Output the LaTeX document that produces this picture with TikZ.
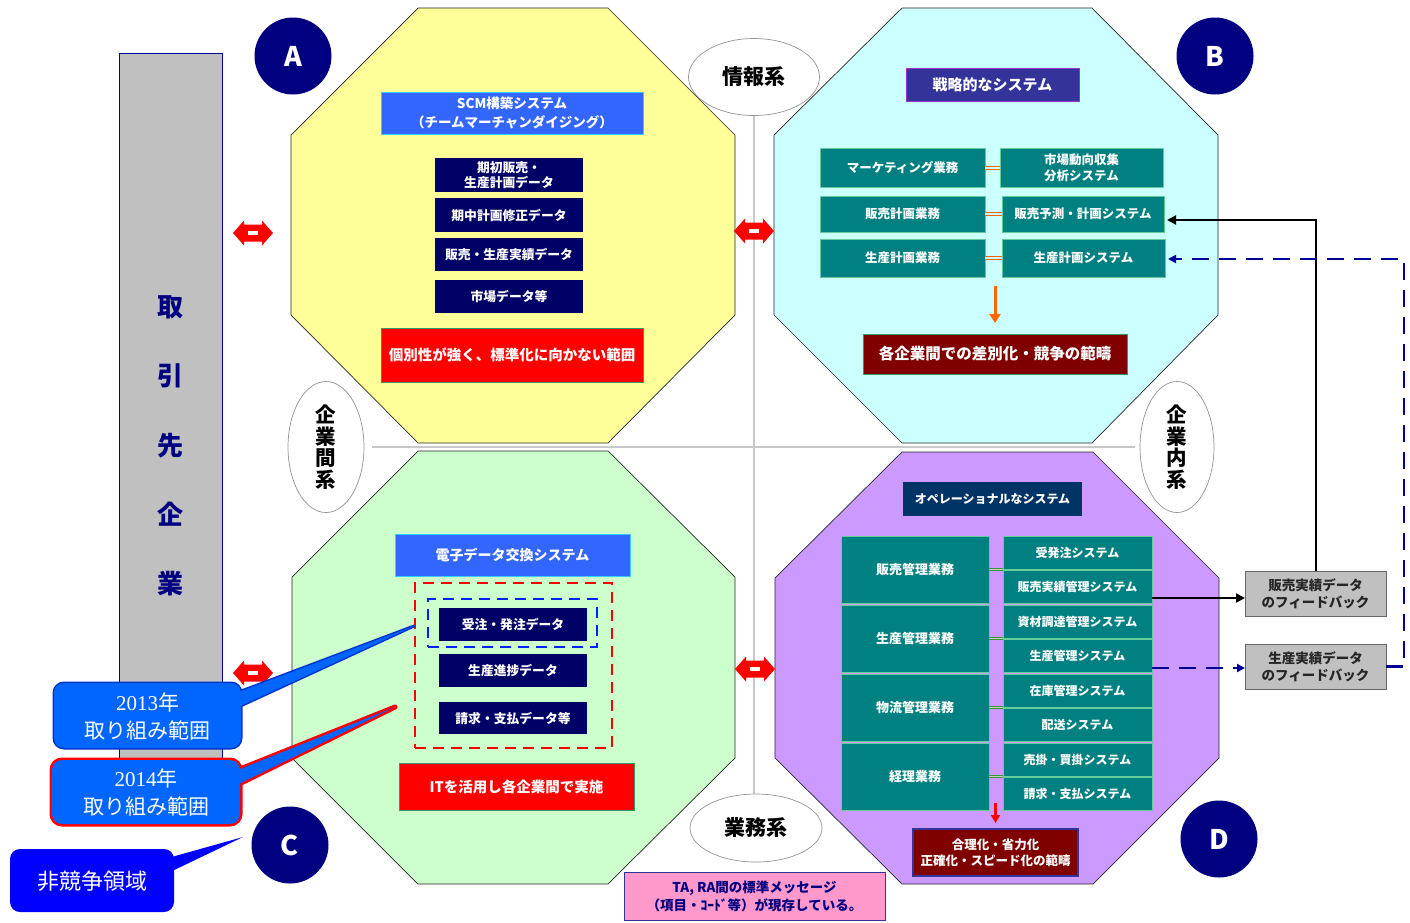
\documentclass[tikz,border=0pt]{standalone}
\usepackage{fontspec}
\setmainfont{Noto Sans CJK JP}
\newfontfamily\serifnum{Liberation Serif}
\usetikzlibrary{arrows.meta,fit,shapes.geometric}
\definecolor{octY}{HTML}{FFFF99}
\definecolor{octC}{HTML}{CCFFFF}
\definecolor{octG}{HTML}{CCFFCC}
\definecolor{octP}{HTML}{CC99FF}
\definecolor{navyc}{HTML}{000080}
\definecolor{datanavy}{HTML}{000066}
\definecolor{tealb}{HTML}{008080}
\definecolor{tealedge}{HTML}{66CC99}
\definecolor{sysblue}{HTML}{3366FF}
\definecolor{sysedge}{HTML}{33CCFF}
\definecolor{rededge}{HTML}{339966}
\definecolor{darkred}{HTML}{800000}
\definecolor{stratfill}{HTML}{333399}
\definecolor{stratedge}{HTML}{9933CC}
\definecolor{opfill}{HTML}{003366}
\definecolor{grayfill}{HTML}{C0C0C0}
\definecolor{grayedge}{HTML}{666666}
\definecolor{colnavy}{HTML}{000099}
\definecolor{axisgray}{HTML}{C8C8C8}
\definecolor{calblue}{HTML}{0066FF}
\definecolor{caledge}{HTML}{0033CC}
\definecolor{pureblue}{HTML}{0000FF}
\definecolor{pinkf}{HTML}{FF99CC}
\definecolor{pinkedge}{HTML}{333399}
\definecolor{orangel}{HTML}{FF6600}
\definecolor{greenl}{HTML}{339933}
\definecolor{dashblue}{HTML}{000099}
\definecolor{rngblue}{HTML}{0022FF}
\newcommand\bx[7]{\node[#2,minimum width={(#5)-(#3)},minimum height={(#6)-(#4)}] (#1) at ({((#3)+(#5))/2},{((#4)+(#6))/2}) {#7};}
\tikzset{
  dblarr/.pic={
    \fill[red] (-20,0) -- (-9,-12.5) -- (-9,-8.5) -- (9,-8.5) -- (9,-12.5) -- (20,0)
      -- (9,12.5) -- (9,8.5) -- (-9,8.5) -- (-9,12.5) -- cycle;
    \fill[white] (-5,-2) rectangle (5,2);
  }
}
\begin{document}
\begin{tikzpicture}[x=1pt,y=-1pt,
  every node/.style={inner sep=0pt,outer sep=0pt},
  oct/.style={draw=black!85,line width=0.7pt},
  axisline/.style={draw=axisgray,line width=1.5pt},
  lbl/.style={ellipse,draw=gray!85,line width=0.7pt,fill=white,align=center},
  circ/.style={circle,fill=navyc,minimum size=77pt,text=white,font=\bfseries\fontsize{27}{27}\selectfont},
  databox/.style={fill=datanavy,text=white,align=center,font=\bfseries\fontsize{12.8}{15}\selectfont},
  sysbox/.style={fill=sysblue,draw=sysedge,line width=1pt,text=white,align=center,font=\bfseries\fontsize{13.5}{19}\selectfont},
  redbox/.style={fill=red,draw=rededge,line width=0.8pt,text=white,align=center,font=\bfseries\fontsize{14.5}{18}\selectfont},
  tealbox/.style={fill=tealb,draw=tealedge,line width=0.8pt,text=white,align=center,font=\bfseries\fontsize{12.5}{16}\selectfont},
  stratbox/.style={fill=stratfill,draw=stratedge,line width=0.8pt,text=white,font=\bfseries\fontsize{15}{18}\selectfont},
  opbox/.style={fill=opfill,text=white,font=\bfseries\fontsize{12}{15}\selectfont},
  drbox/.style={fill=darkred,draw=rededge,line width=0.6pt,text=white,align=center,font=\bfseries\fontsize{15.5}{18}\selectfont},
  drboxb/.style={fill=darkred,draw=pinkedge,line width=1.5pt,text=white,align=center,font=\bfseries\fontsize{12.5}{16}\selectfont},
  fbbox/.style={fill=grayfill,draw=grayedge,line width=1pt,text=black!85,align=center,font=\bfseries\fontsize{13.5}{17}\selectfont},
  pinkbox/.style={fill=pinkf,draw=pinkedge,line width=1pt,text=navyc,align=center,font=\bfseries\fontsize{13.5}{18}\selectfont},
  reddash/.style={draw=red,line width=2.8pt,dash pattern=on 11pt off 7pt},
  bluedash/.style={draw=rngblue,line width=2.8pt,dash pattern=on 11pt off 7pt},
  blk/.style={draw=black,line width=2pt,-{Triangle[length=9pt,width=9pt]}},
  bdash/.style={draw=dashblue,line width=2.5pt,dash pattern=on 17pt off 10pt,-{Triangle[length=8pt,width=8pt]}},
  odbl/.style={draw=orangel,line width=1pt,double=octC,double distance=2pt},
  gdbl/.style={draw=greenl,line width=0.8pt,double=gray!40,double distance=1.6pt},
  oarrow/.style={draw=orangel,line width=3pt,-{Triangle[length=9pt,width=11pt]}},
  rarrow/.style={draw=red,line width=2.2pt,-{Triangle[length=8pt,width=9pt]}},
  calltext/.style={text=white,align=center,font=\fontsize{21}{28}\selectfont},
]
\useasboundingbox (0,0) rectangle (1410,922);

% octagons
\draw[oct,fill=octY] (418,8) -- (608,8) -- (735,135) -- (735,315) -- (608,443) -- (418,443) -- (291,315) -- (291,135) -- cycle;
\draw[oct,fill=octC] (902,8) -- (1092,8) -- (1218,135) -- (1218,315) -- (1092,443) -- (902,443) -- (774,315) -- (774,135) -- cycle;
\draw[oct,fill=octG] (418,451) -- (608,451) -- (735,577) -- (735,758) -- (608,884) -- (418,884) -- (292,758) -- (292,577) -- cycle;
\draw[oct,fill=octP] (902,452) -- (1093,452) -- (1219,578) -- (1219,758) -- (1093,884) -- (902,884) -- (775,758) -- (775,578) -- cycle;

% axis labels
\node[lbl,minimum width=131pt,minimum height=77pt,font=\bfseries\fontsize{21}{21}\selectfont] (info) at (754,77) {情報系};
\node[lbl,minimum width=132pt,minimum height=68pt,font=\bfseries\fontsize{21}{21}\selectfont] (work) at (756,828) {業務系};
\node[lbl,minimum width=76pt,minimum height=131pt,font=\bfseries\fontsize{20.5}{21.7}\selectfont] (inter) at (326,447) {企\\業\\間\\系};
\node[lbl,minimum width=74pt,minimum height=131pt,font=\bfseries\fontsize{20.5}{21.7}\selectfont] (intra) at (1177,447) {企\\業\\内\\系};
\draw[axisline] (info.south) -- (info.south |- work.north);
\draw[axisline,shorten <=8pt,shorten >=5pt] (inter.east) -- (intra.west);

% left column
\node[fill=grayfill,draw=colnavy,line width=1pt,fit={(119,53) (222,775)}] (col) {};
\node[text=navyc,align=center,font=\bfseries\fontsize{26}{69.25}\selectfont] (coltext) at (170,446) {取\\引\\先\\企\\業};

% circles
\node[circ] (cA) at (293,56) {A};
\node[circ] (cB) at (1215,56) {B};
\node[circ] (cC) at (290,845) {C};
\node[circ] (cD) at (1219,839) {D};

% A
\bx{scm}{sysbox}{381}{92}{643}{134}{SCM構築システム\\（チームマーチャンダイジング）}
\bx{a1}{databox}{435}{158}{583}{192}{期初販売・\\生産計画データ}
\bx{a2}{databox}{435}{198}{583}{232}{期中計画修正データ}
\bx{a3}{databox}{435}{238}{583}{271}{販売・生産実績データ}
\bx{a4}{databox}{435}{280}{583}{313}{市場データ等}
\bx{ared}{redbox}{381}{328}{643}{382}{個別性が強く、標準化に向かない範囲}

% B
\bx{strat}{stratbox}{906}{68}{1079}{101}{戦略的なシステム}
\bx{bl1}{tealbox}{820}{148}{985}{187}{マーケティング業務}
\bx{br1}{tealbox}{1000}{148}{1163}{187}{市場動向収集\\分析システム}
\bx{bl2}{tealbox}{820}{196}{985}{232}{販売計画業務}
\bx{br2}{tealbox}{1002}{196}{1164}{232}{販売予測・計画システム}
\bx{bl3}{tealbox}{820}{239}{985}{277}{生産計画業務}
\bx{br3}{tealbox}{1002}{239}{1165}{277}{生産計画システム}
\draw[odbl] (bl1.east) -- (bl1.east -| br1.west);
\draw[odbl] (bl2.east) -- (bl2.east -| br2.west);
\draw[odbl] (bl3.east) -- (bl3.east -| br3.west);
\bx{bred}{drbox}{863}{334}{1127}{374}{各企業間での差別化・競争の範疇}
\draw[oarrow] ([yshift=48pt]bred.north) -- ([yshift=11pt]bred.north);

% C
\bx{edi}{sysbox}{395}{534}{630}{576}{\fontsize{14}{18}\selectfont 電子データ交換システム}
\node[reddash,fit={(415,583) (612,748)}] (rng14) {};
\node[bluedash,fit={(428,599) (597,647)}] (rng13) {};
\bx{c1}{databox}{439}{608}{587}{641}{受注・発注データ}
\bx{c2}{databox}{439}{654}{587}{687}{生産進捗データ}
\bx{c3}{databox}{439}{702}{587}{734}{請求・支払データ等}
\bx{cred}{redbox}{399}{763}{634}{810}{ITを活用し各企業間で実施}

% D
\bx{op}{opbox}{903}{482}{1082}{516}{オペレーショナルなシステム}
\bx{dl1}{tealbox}{841}{536}{989}{603}{\fontsize{13}{16}\selectfont 販売管理業務}
\bx{dl2}{tealbox}{841}{605}{989}{672}{\fontsize{13}{16}\selectfont 生産管理業務}
\bx{dl3}{tealbox}{841}{674}{989}{741}{\fontsize{13}{16}\selectfont 物流管理業務}
\bx{dl4}{tealbox}{841}{743}{989}{810}{\fontsize{13}{16}\selectfont 経理業務}
\bx{dr1}{tealbox}{1003}{536}{1152}{569}{\fontsize{12}{15}\selectfont 受発注システム}
\bx{dr2}{tealbox}{1003}{570}{1152}{603}{\fontsize{12}{15}\selectfont 販売実績管理システム}
\bx{dr3}{tealbox}{1003}{605}{1152}{638}{\fontsize{12}{15}\selectfont 資材調達管理システム}
\bx{dr4}{tealbox}{1003}{639}{1152}{672}{\fontsize{12}{15}\selectfont 生産管理システム}
\bx{dr5}{tealbox}{1003}{674}{1152}{707}{\fontsize{12}{15}\selectfont 在庫管理システム}
\bx{dr6}{tealbox}{1003}{708}{1152}{741}{\fontsize{12}{15}\selectfont 配送システム}
\bx{dr7}{tealbox}{1003}{743}{1152}{776}{\fontsize{12}{15}\selectfont 売掛・買掛システム}
\bx{dr8}{tealbox}{1003}{777}{1152}{810}{\fontsize{12}{15}\selectfont 請求・支払システム}
\draw[gdbl] (dl1.east) -- (dl1.east -| dr1.west);
\draw[gdbl] (dl2.east) -- (dl2.east -| dr3.west);
\draw[gdbl] (dl3.east) -- (dl3.east -| dr5.west);
\draw[gdbl] (dl4.east) -- (dl4.east -| dr7.west);
\bx{dred}{drboxb}{913}{829}{1078}{876}{合理化・省力化\\正確化・スピード化の範疇}
\draw[rarrow] ([yshift=26pt]dred.north) -- ([yshift=6pt]dred.north);

% feedback boxes and connectors
\bx{fb1}{fbbox}{1245}{571}{1386}{616}{販売実績データ\\のフィードバック}
\bx{fb2}{fbbox}{1245}{644}{1386}{689}{生産実績データ\\のフィードバック}
\draw[blk] ([yshift=5pt]dr2.south east) -- ([yshift=5pt]dr2.south east -| fb1.west);
\draw[blk,shorten >=3pt] (fb1.north) |- ([yshift=-6pt]br2.east);
\draw[bdash] ([yshift=4pt]dr4.south east) -- ([yshift=4pt]dr4.south east -| fb2.west);
\coordinate (fbturn) at (1404,259);
\draw[bdash,shorten >=3pt] (fb2.east) -| (fbturn) -- (fbturn -| br3.east);

% red double arrows
\pic at (253,233) {dblarr};
\pic at (754,231) {dblarr};
\pic at (253,673) {dblarr};
\pic at (755,669) {dblarr};

% pink note
\bx{pink}{pinkbox}{624}{872}{885}{920}{TA, RA間の標準メッセージ\\（項目・ｺｰﾄﾞ等）が現存している。}

% callout 2013
\draw[line width=3pt,draw=caledge,rounded corners=10pt] (54,683) rectangle (241,748);
\draw[line width=3pt,draw=caledge,line join=round] (236,693) -- (414,626) -- (236,708) -- cycle;
\fill[calblue,rounded corners=10pt] (54,683) rectangle (241,748);
\fill[calblue] (236,693) -- (414,626) -- (236,708) -- cycle;
\node[calltext] (t13) at (147.5,716) {{\serifnum 2013}年\\取り組み範囲};

% callout 2014
\draw[line width=5pt,draw=red,rounded corners=10pt] (52,760) rectangle (240,824);
\draw[line width=5pt,draw=red,line join=round] (235,771) -- (395,707) -- (235,786) -- cycle;
\fill[calblue,rounded corners=10pt] (52,760) rectangle (240,824);
\fill[calblue] (235,771) -- (395,707) -- (235,786) -- cycle;
\node[calltext] (t14) at (146,792) {{\serifnum 2014}年\\取り組み範囲};

% callout non-competitive
\fill[pureblue,rounded corners=10pt] (10,849) rectangle (174,912);
\fill[pureblue] (168,858) -- (243,837) -- (168,873) -- cycle;
\node[calltext,font=\fontsize{22}{26}\selectfont] (tnc) at (92,881) {非競争領域};
\end{tikzpicture}
\end{document}
